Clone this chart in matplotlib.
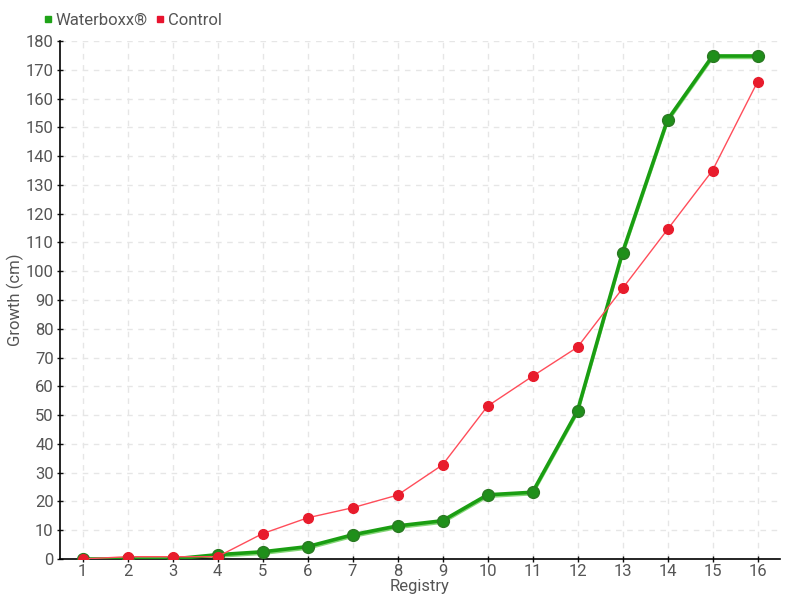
import matplotlib
matplotlib.use("Agg")
import matplotlib.pyplot as plt
from matplotlib.lines import Line2D

plt.rcParams['font.family'] = ['Roboto', 'DejaVu Sans']

registry = list(range(1, 17))
waterboxx = [0, 0, 0, 1.5, 2.5, 4.3, 8.4, 11.5, 13.3, 22.3, 23.2, 51.5, 106.5, 152.6, 174.8, 174.8]
control = [0, 0.8, 0.8, 0.8, 8.8, 14.3, 17.8, 22.2, 32.7, 53.1, 63.5, 73.6, 94.0, 114.5, 135.0, 165.8]
yticks = list(range(0, 181, 10))

fig = plt.figure(figsize=(8, 6), dpi=100)
ax = fig.add_axes([60/800, 41/600, 720/800, 518/600])

txt = '#555555'
ax.grid(True, color='#e6e6e6', linestyle=(0, (4, 4)), linewidth=1)
ax.set_axisbelow(True)

# lighter underlay line for green
ax.plot(registry, [v - 0.6 for v in waterboxx], color='#66cc55', lw=2.2, alpha=0.8, zorder=2)
ax.plot(registry, waterboxx, color='#1a9e12', lw=2.6, marker='o', ms=8.5,
        markerfacecolor='#1f8f1a', markeredgecolor='#2a7a22', markeredgewidth=1, zorder=3)
ax.plot(registry, control, color='#ff4d5a', lw=1, marker='o', ms=7,
        markerfacecolor='#e81c2c', markeredgecolor='#e81c2c', zorder=4)

ax.set_xlim(0.5, 16.5)
ax.set_ylim(0, 180)
ax.set_xticks(registry)
ax.set_yticks(yticks)
for s in ['top', 'right']:
    ax.spines[s].set_visible(False)
ax.spines['left'].set_linewidth(1.2)
ax.spines['bottom'].set_linewidth(1.2)
ax.tick_params(axis='both', colors='#111111', labelcolor=txt, labelsize=12, direction='inout', length=5, width=1)
ax.tick_params(axis='x', pad=1)
ax.tick_params(axis='y', pad=2)

ax.set_xlabel('Registry', color=txt, fontsize=12, labelpad=0)
ax.set_ylabel('Growth (cm)', color=txt, fontsize=12, labelpad=1)

handles = [Line2D([], [], marker='s', color='none', markerfacecolor='#1fa318', markeredgecolor='#1fa318', ms=5),
           Line2D([], [], marker='s', color='none', markerfacecolor='#e8132e', markeredgecolor='#e8132e', ms=5)]
leg = fig.legend(handles, ['Waterboxx®', 'Control'], loc='upper left', bbox_to_anchor=(44/800, 1 - 13/600),
                 ncol=2, frameon=False, fontsize=12, handlelength=0.5, handletextpad=0.2,
                 columnspacing=0.5, borderpad=0, borderaxespad=0)
for t in leg.get_texts():
    t.set_color(txt)

fig.savefig('out.png', dpi=100)
